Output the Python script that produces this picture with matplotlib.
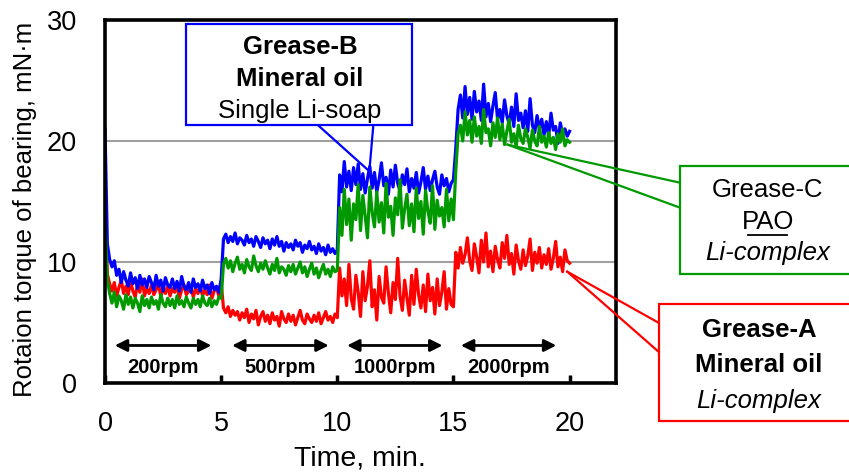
import matplotlib.pyplot as plt
import numpy as np

plt.rcParams['font.family'] = ['Liberation Sans', 'DejaVu Sans']

# time axis, one reading every 0.1 min (0.0 ... 20.0)
time_min = np.round(np.arange(0, 201) * 0.1, 1)

# Grease-B (blue) torque, mN·m
grease_b = [
    21.0, 11.5, 10.2, 9.6, 10.1, 8.9, 9.4, 8.3, 9.2, 8.5,
    8.0, 9.1, 8.2, 8.7, 7.8, 8.9, 8.1, 8.6, 7.9, 8.8,
    8.3, 7.7, 8.9, 8.0, 8.5, 7.6, 8.7, 8.1, 7.9, 8.6,
    7.8, 8.4, 7.6, 8.8, 8.0, 7.7, 8.3, 7.5, 8.6, 7.9,
    8.2, 7.6, 8.5, 7.8, 8.1, 7.4, 8.3, 7.7, 8.0, 7.5,
    8.6, 11.9, 12.3, 11.6, 12.1, 11.7, 12.4, 11.5, 12.0, 11.8,
    11.4, 12.2, 11.6, 11.9, 11.3, 12.1, 11.7, 11.2, 12.0, 11.5,
    11.8, 11.1, 11.9, 11.4, 12.1, 11.3, 11.7, 10.9, 11.6, 11.2,
    11.5, 11.0, 11.8, 11.3, 11.6, 10.8, 11.4, 11.1, 11.7, 11.0,
    11.3, 10.7, 11.5, 10.9, 11.2, 10.6, 11.4, 10.8, 11.1, 10.7,
    11.0, 17.2, 15.8, 18.3, 16.2, 17.5, 15.9, 17.8, 16.4, 18.1,
    16.0, 17.3, 15.7, 16.9, 17.9, 16.1, 17.4, 15.8, 16.8, 18.2,
    16.3, 17.0, 15.6, 17.6, 16.2, 18.0, 16.5, 15.9, 17.2, 16.4,
    17.7, 15.8, 16.9, 16.1, 17.4, 15.7, 16.6, 17.8, 16.0, 17.1,
    15.9, 16.8, 17.5, 16.2, 15.6, 17.2, 16.3, 16.9, 15.8, 16.5,
    16.8, 19.4, 22.6, 23.8, 21.9, 24.5, 22.2, 23.6, 21.8, 24.1,
    22.4, 23.3, 21.7, 24.7, 22.0, 23.1, 21.6, 22.9, 24.0, 21.8,
    22.6, 21.5, 23.4, 22.1, 21.4, 22.8, 21.2, 23.9, 21.7, 22.3,
    21.1, 22.5, 20.8, 23.5, 21.3, 20.7, 22.1, 21.0, 21.8, 20.5,
    21.6, 20.4, 22.3, 20.9, 21.2, 19.8, 21.5, 20.6, 21.0, 20.4,
    20.8,
]

# Grease-C (green) torque, mN·m
grease_c = [
    13.0, 8.5, 7.4, 6.6, 7.5, 6.3, 7.2, 6.8, 6.1, 7.3,
    6.5, 7.1, 6.2, 7.0, 6.6, 5.9, 7.2, 6.4, 6.9, 6.2,
    7.1, 6.5, 6.8, 6.1, 7.3, 6.6, 6.3, 7.0, 6.4, 6.9,
    6.2, 7.2, 6.5, 6.8, 6.3, 7.1, 6.6, 6.2, 7.0, 6.5,
    6.9, 6.3, 7.2, 6.6, 6.4, 7.0, 6.3, 6.8, 6.5, 7.1,
    7.0, 9.8, 10.3, 9.5, 10.1, 9.2, 9.9, 10.4, 9.4, 9.8,
    9.1, 10.2, 9.6, 9.3, 10.5, 9.7, 9.2, 9.9, 9.4, 10.1,
    9.5, 9.0, 9.8, 9.3, 10.3, 9.1, 9.6, 9.4, 8.9, 9.7,
    9.2, 9.8, 9.0, 9.5, 10.0, 9.1, 9.6, 8.8, 9.4, 9.9,
    9.0, 9.5, 8.7, 9.3, 9.8, 9.0, 9.4, 8.8, 9.6, 9.2,
    9.3, 14.5, 12.2, 16.0, 13.1, 15.2, 11.8, 14.8, 13.5, 16.4,
    12.6, 15.5, 13.8, 12.0, 16.2, 14.1, 12.9, 15.8, 13.3, 14.9,
    12.4, 16.5, 13.7, 14.6, 12.2, 15.3, 13.9, 16.8, 12.8, 14.4,
    15.6, 13.0, 14.8, 12.5, 16.1, 13.6, 15.0, 12.3, 15.9, 14.2,
    13.2, 16.3, 12.7, 15.1, 13.8, 14.5, 12.9, 16.0, 13.4, 15.2,
    13.5, 17.5, 20.6, 21.3, 20.0, 22.4, 20.5, 21.7, 19.9, 22.0,
    20.4, 21.2, 19.8, 22.6, 20.7, 21.0, 19.6, 21.5, 20.3, 21.9,
    20.1, 21.4, 19.7, 20.8, 21.8, 19.9, 20.6, 19.5, 21.3, 20.2,
    19.8, 21.0, 20.3, 19.4, 20.9, 20.0, 19.6, 21.2, 19.9, 20.4,
    19.5, 20.7, 19.8, 20.3, 19.3, 20.6, 19.9, 21.0, 19.6, 20.1,
    19.9,
]

# Grease-A (red) torque, mN·m
grease_a = [
    14.5, 9.0, 8.2, 7.6, 8.3, 7.2, 7.9, 8.5, 7.4, 8.0,
    7.3, 8.4, 7.6, 7.1, 8.2, 7.5, 8.6, 7.2, 7.8, 7.4,
    8.1, 7.3, 7.7, 8.3, 7.1, 7.9, 7.4, 8.0, 7.2, 7.8,
    7.5, 8.2, 7.0, 7.7, 8.1, 7.3, 7.6, 7.9, 7.1, 7.8,
    7.4, 8.0, 7.2, 7.7, 7.3, 8.1, 7.0, 7.6, 7.9, 7.2,
    8.3, 6.2, 5.8, 6.3, 5.5, 6.0, 5.6, 5.9, 5.2, 5.8,
    5.4, 6.1, 5.0, 5.7, 5.3, 6.0, 4.8, 5.5, 5.9, 5.1,
    5.6, 4.9, 5.8, 5.2, 5.5, 4.7, 5.9, 5.3, 5.0, 5.7,
    5.1, 5.6, 4.8, 5.4, 6.0, 5.2, 4.9, 5.7, 5.3, 5.0,
    5.6, 5.1, 5.8, 4.9, 5.4, 5.9, 5.2, 5.5, 5.0, 5.7,
    5.4, 9.5, 7.2, 8.6, 6.4, 9.8, 7.0, 6.1, 8.9, 7.5,
    5.5, 9.2, 6.8, 8.0, 10.1, 6.3, 7.7, 5.2, 8.8, 7.1,
    6.6, 9.6, 7.4, 5.8, 8.3, 6.9, 10.3, 7.2, 6.0, 8.5,
    7.0, 5.6, 8.9, 6.5, 9.4, 7.3, 6.2, 8.1, 5.9, 9.0,
    6.8, 7.9, 5.7, 8.6, 6.4, 7.5, 9.2, 6.1, 7.8, 6.5,
    6.3, 10.8, 9.5, 11.2, 9.9, 10.6, 12.0, 10.1, 9.3, 11.5,
    10.4, 9.1, 11.8, 10.0, 12.4, 9.6, 10.9, 9.2, 11.3, 10.2,
    9.5, 11.6, 10.3, 12.2, 9.8, 10.7, 9.0, 11.4, 10.1, 9.4,
    11.0, 9.7, 10.5, 11.9, 9.3, 10.8, 9.9, 11.2, 9.5, 10.6,
    9.8, 11.1, 9.4, 10.3, 11.7, 9.6, 10.4, 9.2, 11.0, 10.1,
    9.9,
]

# speed steps: start, end (min) and label
step_start = [0.3, 5.35, 10.3, 15.2]
step_end = [4.7, 9.75, 14.65, 19.55]
step_labels = ['200rpm', '500rpm', '1000rpm', '2000rpm']

RED = '#FF0000'
BLUE = '#0000FF'
GREEN = '#009A00'

fig = plt.figure(figsize=(8.49, 4.75), dpi=100)
ax = fig.add_axes([0.1237, 0.1937, 0.6019, 0.7642])

ax.plot(time_min, grease_a, color=RED, lw=2.3, zorder=3)
ax.plot(time_min, grease_b, color=BLUE, lw=2.3, zorder=3)
ax.plot(time_min, grease_c, color=GREEN, lw=2.3, zorder=4)

ax.set_xlim(0, 22)
ax.set_ylim(0, 30)
ax.set_xticks([0, 5, 10, 15, 20])
ax.set_yticks([0, 10, 20, 30])
ax.set_yticks([20], minor=True)
ax.tick_params(axis='x', direction='in', length=6, width=2.5, pad=20, labelsize=19.5)
ax.tick_params(axis='y', which='major', length=0, pad=20, labelsize=19.5)
ax.tick_params(axis='y', which='minor', direction='in', length=8, width=2.5)
for y in [10, 20]:
    ax.axhline(y, color='#A0A0A0', lw=1.5, zorder=1)
for s in ax.spines.values():
    s.set_linewidth(2.6)
    s.set_color('black')
    s.set_zorder(6)

ax.text(0.499, -0.207, 'Time, min.', transform=ax.transAxes, ha='center', va='center', fontsize=20.5)
ax.text(-0.157, 0.477, 'Rotaion torque of bearing, mN·m', transform=ax.transAxes,
        rotation=90, ha='center', va='center', fontsize=18.5)

# speed arrows
for x0, x1, lab in zip(step_start, step_end, step_labels):
    ax.annotate('', xy=(x0, 3.1), xytext=(x1, 3.1),
                arrowprops=dict(arrowstyle='<|-|>', color='black', lw=2, mutation_scale=18))
    ax.text((x0 + x1) / 2, 1.25, lab, ha='center', va='center', fontsize=14.5,
            fontweight='bold')


def callout(box, pts, tip, color):
    bx0, by0, bx1, by1 = box
    ax.fill([bx0, bx1, bx1, bx0], [by0, by0, by1, by1], facecolor='white',
            edgecolor=color, lw=1.6, clip_on=False, zorder=7)
    for p in pts:
        ax.plot([p[0], tip[0]], [p[1], tip[1]], color=color, lw=1.6,
                clip_on=False, zorder=7)


# Grease-B callout
callout((3.49, 21.29, 13.23, 29.66), [(9.18, 21.29), (11.55, 21.29)], (11.38, 17.5), BLUE)
ax.text(8.4, 27.8, 'Grease-B', ha='center', va='center', fontsize=18.5, fontweight='bold', zorder=8)
ax.text(8.4, 25.15, 'Mineral oil', ha='center', va='center', fontsize=18.5, fontweight='bold', zorder=8)
ax.text(8.4, 22.5, 'Single Li-soap', ha='center', va='center', fontsize=18.5, zorder=8)

# Grease-C callout
callout((24.74, 9.0, 34.0, 17.97), [(24.74, 16.56), (24.74, 14.5)], (17.33, 19.7), GREEN)
ax.text(28.54, 15.99, 'Grease-C', ha='center', va='center', fontsize=18.5, zorder=8, clip_on=False)
ax.text(28.54, 13.34, 'PAO', ha='center', va='center', fontsize=18.5, zorder=8, clip_on=False)
ax.plot([27.7, 29.38], [12.25, 12.25], color='black', lw=1.3, clip_on=False, zorder=8)
ax.text(28.54, 10.77, 'Li-complex', ha='center', va='center', fontsize=18.5,
        style='italic', zorder=8, clip_on=False)

# Grease-A callout
callout((23.84, -3.15, 34.0, 6.5), [(23.84, 4.97), (23.84, 2.57)], (19.9, 9.2), RED)
ax.text(28.15, 4.35, 'Grease-A', ha='center', va='center', fontsize=18.5,
        fontweight='bold', zorder=8, clip_on=False)
ax.text(28.15, 1.45, 'Mineral oil', ha='center', va='center', fontsize=18.5,
        fontweight='bold', zorder=8, clip_on=False)
ax.text(28.15, -1.45, 'Li-complex', ha='center', va='center', fontsize=18.5,
        style='italic', zorder=8, clip_on=False)

fig.savefig('out.png', dpi=100)
